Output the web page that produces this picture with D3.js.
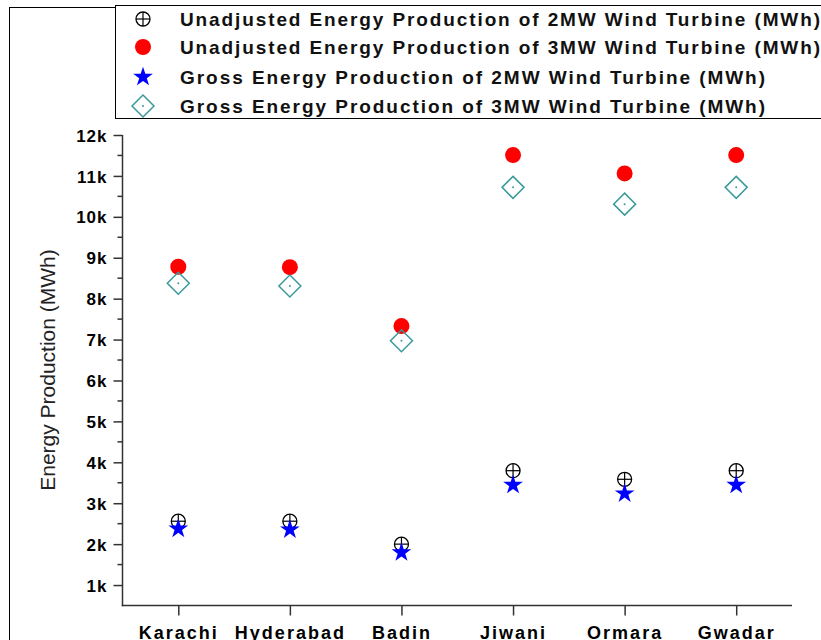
<!DOCTYPE html>
<html>
<head>
<meta charset="utf-8">
<script src="https://cdn.jsdelivr.net/npm/d3@7"></script>
<style>
  html, body { margin: 0; padding: 0; background: #fff; }
  svg { display: block; }
</style>
</head>
<body>
<svg id="chart" width="821" height="640"></svg>
<script>
// Sites along the Sindh / Balochistan coast
const sites = ["Karachi", "Hyderabad", "Badin", "Jiwani", "Ormara", "Gwadar"];

// Annual energy production per turbine (MWh)
const unadjusted2MW = [2560, 2560, 2000, 3795, 3585, 3795];
const unadjusted3MW = [8780, 8770, 7330, 11510, 11060, 11510];
const gross2MW      = [2400, 2380, 1820, 3470, 3260, 3470];
const gross3MW      = [8375, 8310, 6970, 10720, 10310, 10720];

const seriesNames = [
  "Unadjusted Energy Production of 2MW Wind Turbine (MWh)",
  "Unadjusted Energy Production of 3MW Wind Turbine (MWh)",
  "Gross Energy Production of 2MW Wind Turbine (MWh)",
  "Gross Energy Production of 3MW Wind Turbine (MWh)"
];

const yMajorTicks = [1000, 2000, 3000, 4000, 5000, 6000, 7000, 8000, 9000, 10000, 11000, 12000];
const yMinorTicks = [1500, 2500, 3500, 4500, 5500, 6500, 7500, 8500, 9500, 10500, 11500];

(function () {
const svg = d3.select("#chart");
const font = "'Liberation Sans', Arial, sans-serif";

// Outer frame (only its top and left edges fall inside the page)
svg.append("rect")
  .attr("x", 9.5).attr("y", 7.5).attr("width", 900).attr("height", 700)
  .attr("fill", "none").attr("stroke", "#000").attr("stroke-width", 1);

const plotLeft = 122.5, plotRight = 792, plotTop = 135, plotBottom = 605.5;

const x = d3.scalePoint().domain(sites).range([plotLeft, plotRight]).padding(0.5);
const y = d3.scaleLinear().domain([500, 12000]).range([plotBottom, plotTop]);

// Y axis
const yAxis = svg.append("g").attr("transform", `translate(${plotLeft},0)`);
yAxis.call(d3.axisLeft(y).tickValues(yMajorTicks).tickSize(9).tickPadding(6)
  .tickFormat(d => (d / 1000) + "k"));
yAxis.select(".domain").remove();
yAxis.append("g").selectAll("line").data(yMinorTicks).join("line")
  .attr("x1", 0).attr("x2", -5).attr("y1", d => y(d)).attr("y2", d => y(d))
  .attr("stroke", "#333").attr("stroke-width", 1.5);
yAxis.append("line").attr("x1", 0).attr("x2", 0).attr("y1", plotTop).attr("y2", plotBottom + 0.75)
  .attr("stroke", "#333").attr("stroke-width", 1.5);
yAxis.selectAll(".tick line").attr("stroke", "#333").attr("stroke-width", 1.5);
yAxis.selectAll(".tick text")
  .attr("font-family", font).attr("font-size", 17).attr("font-weight", "bold")
  .attr("letter-spacing", "1px").attr("fill", "#000").attr("dy", "0.36em");

// X axis
const xAxis = svg.append("g").attr("transform", `translate(0,${plotBottom})`);
xAxis.call(d3.axisBottom(x).tickSize(10).tickPadding(8));
xAxis.select(".domain").remove();
xAxis.append("line").attr("x1", plotLeft - 0.75).attr("x2", plotRight).attr("y1", 0).attr("y2", 0)
  .attr("stroke", "#333").attr("stroke-width", 1.5);
xAxis.selectAll(".tick line").attr("stroke", "#333").attr("stroke-width", 1.5);
xAxis.selectAll(".tick text")
  .attr("font-family", font).attr("font-size", 18).attr("font-weight", "bold")
  .attr("letter-spacing", "2px").attr("fill", "#000").attr("dy", "0.85em");

// Y axis title
svg.append("text")
  .attr("transform", `translate(55,370) rotate(-90)`)
  .attr("text-anchor", "middle")
  .attr("font-family", font).attr("font-size", 21).attr("fill", "#222")
  .text("Energy Production (MWh)");

// Marker painters
const teal = "#3a9a9a";
const starPath = d3.symbol().type(d3.symbolStar).size(120)();

function drawCirclePlus(g, cx, cy) {
  const m = g.append("g").attr("transform", `translate(${cx},${cy})`);
  m.append("circle").attr("r", 7).attr("fill", "none").attr("stroke", "#000").attr("stroke-width", 1.3);
  m.append("line").attr("x1", -7).attr("x2", 7).attr("y1", 0).attr("y2", 0).attr("stroke", "#000").attr("stroke-width", 1.2);
  m.append("line").attr("x1", 0).attr("x2", 0).attr("y1", -7).attr("y2", 7).attr("stroke", "#000").attr("stroke-width", 1.2);
}
function drawDot(g, cx, cy) {
  g.append("circle").attr("cx", cx).attr("cy", cy).attr("r", 8).attr("fill", "#ff0000");
}
function drawStar(g, cx, cy) {
  g.append("path").attr("d", starPath).attr("transform", `translate(${cx},${cy + 1})`)
    .attr("fill", "#0000ff");
}
function drawDiamond(g, cx, cy) {
  const m = g.append("g").attr("transform", `translate(${cx},${cy})`);
  m.append("path").attr("d", "M0,-11L11,0L0,11L-11,0Z")
    .attr("fill", "none").attr("stroke", teal).attr("stroke-width", 1.5);
  m.append("circle").attr("r", 1).attr("fill", teal);
}

const painters = [drawCirclePlus, drawDot, drawStar, drawDiamond];
const seriesValues = [unadjusted2MW, unadjusted3MW, gross2MW, gross3MW];

const plot = svg.append("g");
seriesValues.forEach((vals, i) => {
  const g = plot.append("g");
  vals.forEach((v, j) => painters[i](g, x(sites[j]), y(v)));
});

// Legend
const legend = svg.append("g");
legend.append("rect")
  .attr("x", 115.5).attr("y", 5.5).attr("width", 800).attr("height", 113)
  .attr("fill", "#fff").attr("stroke", "#000").attr("stroke-width", 1);
const legendRows = [19, 47, 77, 106];
const legendWidths = [640, 640, 585, 585];
seriesNames.forEach((name, i) => {
  const g = legend.append("g");
  painters[i](g, 143, legendRows[i] - (i === 2 ? 1 : 0));
  g.append("text")
    .attr("x", 180).attr("y", legendRows[i]).attr("dy", "0.36em")
    .attr("font-family", font).attr("font-size", 19).attr("font-weight", "bold")
    .attr("fill", "#111")
    .attr("textLength", legendWidths[i]).attr("lengthAdjust", "spacing")
    .text(name);
});
})();
</script>
</body>
</html>
